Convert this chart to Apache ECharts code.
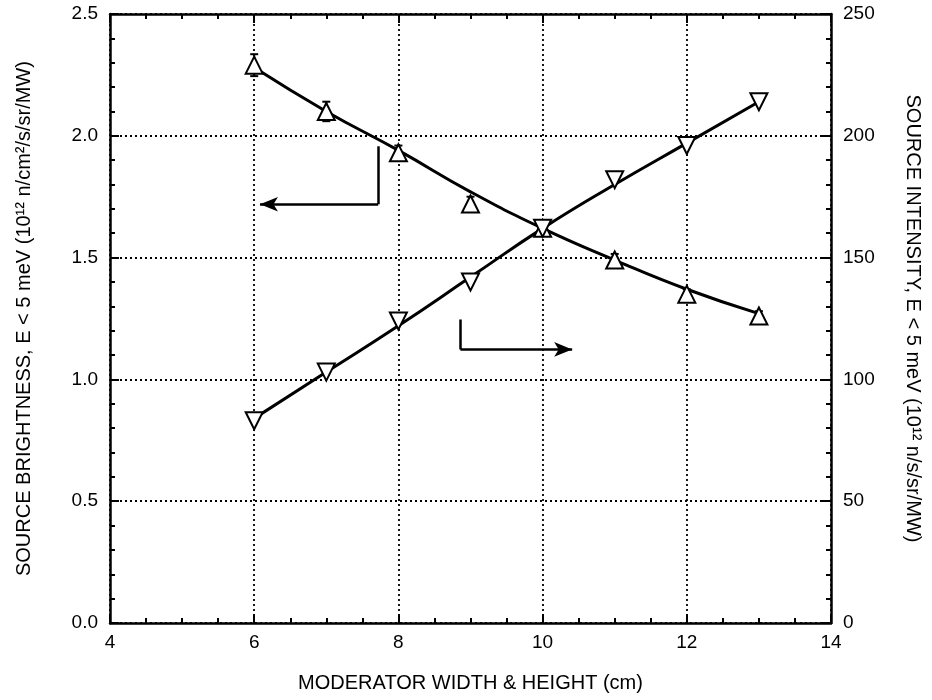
<!DOCTYPE html>
<html>
<head>
<meta charset="utf-8">
<script src="https://cdn.jsdelivr.net/npm/echarts@6/dist/echarts.min.js"></script>
<style>
  html, body { margin: 0; padding: 0; background: #fff; }
  #chart { width: 932px; height: 700px; }
</style>
</head>
<body>
<div id="chart"></div>
<script>
// moderator size (cm)
const sizes = [6, 7, 8, 9, 10, 11, 12, 13];
// brightness, left axis (10^12 n/cm2/s/sr/MW)
const brightness = [2.29, 2.10, 1.93, 1.72, 1.62, 1.49, 1.35, 1.26];
const brightnessErr = [0.045, 0.04, 0.03, 0.03, 0.025, 0.025, 0.02, 0.02];
const brightnessFit = [2.28, 2.10, 1.94, 1.77, 1.62, 1.49, 1.37, 1.27];
// intensity, right axis (10^12 n/s/sr/MW)
const intensity = [83, 103, 124, 140, 162, 182, 196, 214];
const intensityFit = [84, 103, 122, 142, 162, 180, 197, 214];

const xTicks = [4, 6, 8, 10, 12, 14];
const leftTicks = [0, 0.5, 1.0, 1.5, 2.0, 2.5];
const rightTicks = [0, 50, 100, 150, 200, 250];

const font = 'Liberation Sans';

const pairs = (xs, ys) => xs.map((x, i) => [x, ys[i]]);

const tickStyle = { inside: true, length: 9, lineStyle: { color: '#000', width: 2 } };
const minorStyle = { show: true, length: 5, lineStyle: { color: '#000', width: 2 } };
const axisLineStyle = { show: true, onZero: false, lineStyle: { color: '#000', width: 2.5 } };
const dotted = { show: true, lineStyle: { color: '#000', width: 1.8, type: [2, 3] } };
const labelStyle = { color: '#000', fontSize: 19, fontFamily: font };
const nameStyle = { color: '#000', fontSize: 20, fontFamily: font };

const chart = echarts.init(document.getElementById('chart'));

const option = {
  animation: false,
  backgroundColor: '#fff',
  grid: { left: 110, right: 101, top: 14, bottom: 77 },
  xAxis: [
    {
      type: 'value', position: 'bottom',
      min: xTicks[0], max: xTicks[xTicks.length - 1], interval: 2,
      name: 'MODERATOR WIDTH & HEIGHT (cm)', nameLocation: 'middle', nameGap: 50,
      nameTextStyle: nameStyle,
      axisLine: axisLineStyle,
      axisTick: tickStyle,
      minorTick: Object.assign({ splitNumber: 4 }, minorStyle),
      axisLabel: Object.assign({ margin: 10 }, labelStyle),
      splitLine: dotted
    },
    {
      type: 'value', position: 'top',
      min: xTicks[0], max: xTicks[xTicks.length - 1], interval: 2,
      axisLine: axisLineStyle,
      axisTick: tickStyle,
      minorTick: Object.assign({ splitNumber: 4 }, minorStyle),
      axisLabel: { show: false },
      splitLine: { show: false }
    }
  ],
  yAxis: [
    {
      type: 'value', position: 'left',
      min: leftTicks[0], max: leftTicks[leftTicks.length - 1], interval: 0.5,
      name: 'SOURCE BRIGHTNESS, E < 5 meV (10¹² n/cm²/s/sr/MW)',
      nameLocation: 'middle', nameGap: 76,
      nameTextStyle: nameStyle,
      axisLine: axisLineStyle,
      axisTick: tickStyle,
      minorTick: Object.assign({ splitNumber: 5 }, minorStyle),
      axisLabel: Object.assign({ margin: 12, formatter: v => v.toFixed(1) }, labelStyle),
      splitLine: dotted
    },
    {
      type: 'value', position: 'right',
      min: rightTicks[0], max: rightTicks[rightTicks.length - 1], interval: 50,
      name: 'SOURCE INTENSITY, E < 5 meV (10¹² n/s/sr/MW)',
      nameLocation: 'middle', nameGap: 72, nameRotate: -90,
      nameTextStyle: nameStyle,
      axisLine: axisLineStyle,
      axisTick: tickStyle,
      minorTick: Object.assign({ splitNumber: 5 }, minorStyle),
      axisLabel: Object.assign({ margin: 12 }, labelStyle),
      splitLine: { show: false }
    }
  ],
  series: [
    {
      name: 'brightness err',
      type: 'custom',
      xAxisIndex: 0, yAxisIndex: 0,
      z: 2,
      data: sizes.map((x, i) => [x, brightness[i] - brightnessErr[i], brightness[i] + brightnessErr[i]]),
      renderItem: function (params, api) {
        const top = api.coord([api.value(0), api.value(2)]);
        const bot = api.coord([api.value(0), api.value(1)]);
        const style = { stroke: '#000', lineWidth: 2 };
        return {
          type: 'group',
          children: [
            { type: 'line', shape: { x1: top[0], y1: top[1], x2: bot[0], y2: bot[1] }, style: style },
            { type: 'line', shape: { x1: top[0] - 4, y1: top[1], x2: top[0] + 4, y2: top[1] }, style: style },
            { type: 'line', shape: { x1: bot[0] - 4, y1: bot[1], x2: bot[0] + 4, y2: bot[1] }, style: style }
          ]
        };
      }
    },
    {
      name: 'brightness fit',
      type: 'line',
      xAxisIndex: 0, yAxisIndex: 0,
      smooth: true, showSymbol: false, z: 3,
      lineStyle: { color: '#000', width: 3 },
      data: pairs(sizes, brightnessFit),
      markLine: {
        silent: true,
        symbol: ['none', 'arrow'],
        symbolSize: [11, 18],
        label: { show: false },
        lineStyle: { color: '#000', width: 2.5, type: 'solid' },
        data: [
          [{ coord: [7.72, 1.957], symbol: 'none' }, { coord: [7.72, 1.719], symbol: 'none' }],
          [{ coord: [7.72, 1.719], symbol: 'none' }, { coord: [6.08, 1.719] }]
        ]
      }
    },
    {
      name: 'intensity fit',
      type: 'line',
      xAxisIndex: 0, yAxisIndex: 1,
      smooth: true, showSymbol: false, z: 3,
      lineStyle: { color: '#000', width: 3 },
      data: pairs(sizes, intensityFit),
      markLine: {
        silent: true,
        symbol: ['none', 'arrow'],
        symbolSize: [11, 18],
        label: { show: false },
        lineStyle: { color: '#000', width: 2.5, type: 'solid' },
        data: [
          [{ coord: [8.86, 124.6], symbol: 'none' }, { coord: [8.86, 112.3], symbol: 'none' }],
          [{ coord: [8.86, 112.3], symbol: 'none' }, { coord: [10.41, 112.3] }]
        ]
      }
    },
    {
      name: 'brightness',
      type: 'scatter',
      xAxisIndex: 0, yAxisIndex: 0,
      symbol: 'triangle', symbolSize: 17, z: 4,
      itemStyle: { color: '#fff', opacity: 1, borderColor: '#000', borderWidth: 2 },
      data: pairs(sizes, brightness)
    },
    {
      name: 'intensity',
      type: 'scatter',
      xAxisIndex: 0, yAxisIndex: 1,
      symbol: 'triangle', symbolRotate: 180, symbolSize: 17, z: 4,
      itemStyle: { color: '#fff', opacity: 1, borderColor: '#000', borderWidth: 2 },
      data: pairs(sizes, intensity)
    }
  ]
};

chart.setOption(option);
</script>
</body>
</html>
